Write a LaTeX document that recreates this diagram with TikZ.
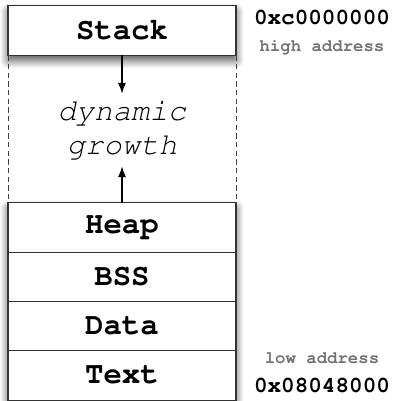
\documentclass[tikz,border=0pt]{standalone}
\usepackage[T1]{fontenc}
\renewcommand{\ttdefault}{pcr}
\usetikzlibrary{positioning, arrows.meta, shadows.blur}
\tikzset{
  segment/.style={
    rectangle, draw=black!80, thick, fill=white,
    minimum width=171pt, minimum height=37pt, inner sep=0pt, outer sep=0pt,
    font=\ttfamily\bfseries\fontsize{23}{23}\selectfont
  },
  boxshadow/.style={
    blur shadow={shadow xshift=0pt, shadow yshift=-4pt,
      shadow blur radius=6pt, shadow blur steps=14, shadow opacity=70}
  },
  growth/.style={
    align=center, inner sep=5pt,
    font=\ttfamily\slshape\fontsize{23}{26}\selectfont
  },
  addr/.style={font=\ttfamily\bfseries\fontsize{17}{17}\selectfont},
  addrnote/.style={text=black!55, font=\ttfamily\bfseries\fontsize{13}{13}\selectfont},
  arrow/.style={thick, -{Latex[length=8pt, width=6pt]}},
  border/.style={semithick, black!75, dash pattern=on 4pt off 2.5pt}
}
\begin{document}
\begin{tikzpicture}[x=0.75pt, y=-0.75pt]
\useasboundingbox (0,0) rectangle (394,401);

% program memory layout
\node[segment, boxshadow] (stack) at (122,30.5) {Stack};
\node[segment, boxshadow, minimum height=148.5pt] (lowblock) at (122,302) {};
\node[segment] (heap) at (122,227.5) {Heap};
\node[segment, below=0pt of heap] (bss) {BSS};
\node[segment, below=0pt of bss] (data) {Data};
\node[segment, below=0pt of data] (text) {Text};

% free space between stack and heap
\node[growth] (dyn) at (122,130) {dynamic\\growth};
\draw[border] (stack.south west) -- (heap.north west);
\draw[border] (stack.south east) -- (heap.north east);
\draw[arrow] (stack) -- (dyn);
\draw[arrow] (heap) -- (dyn);

% addresses
\node[addr] (high) at (322,18) {0xc0000000};
\node[addrnote, below=4pt of high.south, anchor=north] (highnote) {high address};
\node[addr] (low) at (322,386) {0x08048000};
\node[addrnote, above=4pt of low.north, anchor=south] (lownote) {low address};

\end{tikzpicture}
\end{document}
